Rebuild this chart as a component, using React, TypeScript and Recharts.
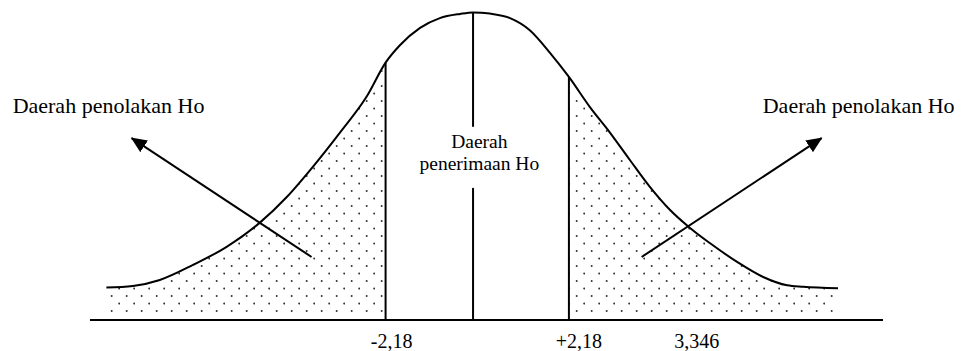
import React from 'react';
import {
  ComposedChart,
  Line,
  Area,
  XAxis,
  YAxis,
  ReferenceLine,
  ReferenceDot,
} from 'recharts';

// t positions along the sketch and curve height
const tPos = [
  -8.82, -8.19, -7.55, -6.76, -5.96, -5.17, -4.53, -3.91, -3.27, -2.63, -2.18,
  -1.84, -1.36, -0.89, -0.41, -0.1, 0.3, 0.78, 1.25, 1.73, 2.18, 2.68, 3.16,
  3.63, 4.11, 4.58, 5.06, 5.53, 6.18, 6.8, 7.37, 7.75, 8.58,
];
const density = [
  0.043, 0.045, 0.053, 0.073, 0.097, 0.129, 0.163, 0.203, 0.248, 0.296, 0.341,
  0.364, 0.387, 0.4, 0.4055, 0.4075, 0.406, 0.4, 0.384, 0.354, 0.322, 0.282,
  0.248, 0.212, 0.176, 0.146, 0.122, 0.102, 0.077, 0.057, 0.046, 0.044, 0.042,
];

const criticalLow = -2.18;
const criticalHigh = 2.18;
const centerT = -0.1;

// x-axis ticks (3,346 sits where the sketch put it, not to scale)
const tickValues = [-2.18, 2.18, 5.22];
const tickLabels = ['-2,18', '+2,18', '3,346'];

// arrows: tail -> tip
const leftArrow = [
  { x: -3.94, y: 0.0835 },
  { x: -8.22, y: 0.241 },
];
const rightArrow = [
  { x: 3.91, y: 0.0835 },
  { x: 8.19, y: 0.241 },
];

const rejectLabel = 'Daerah penolakan Ho';
const acceptLabel = ['Daerah', 'penerimaan Ho'];

const chartData = tPos.map((t, i) => ({
  t,
  curve: density[i],
  left: t <= criticalLow ? density[i] : null,
  right: t >= criticalHigh ? density[i] : null,
}));

const curveAt = (t: number) => density[tPos.indexOf(t)];

const serif: React.CSSProperties = {
  fontFamily: '"Liberation Serif", "Times New Roman", Tinos, "DejaVu Serif", serif',
};
const tickShift = [6, 10, 0];

const AxisTick = (props: any) => {
  const { x, y, index } = props;
  return (
    <text
      x={x + tickShift[index]}
      y={y + 19.5}
      textAnchor="middle"
      style={serif}
      fontSize={20}
      fill="#000"
    >
      {tickLabels[index]}
    </text>
  );
};

const arrowShape = (p: any) => (
  <line
    x1={p.x1}
    y1={p.y1}
    x2={p.x2}
    y2={p.y2}
    stroke="#000"
    strokeWidth={2}
    markerEnd="url(#arrowHead)"
  />
);

export default function App() {
  return (
    <div style={{ position: 'absolute', left: 0, top: 0, background: '#fff' }}>
      <ComposedChart
        width={966}
        height={351}
        data={chartData}
        margin={{ top: 3, right: 83, bottom: 0, left: 90 }}
      >
        <defs>
          <pattern id="dots" patternUnits="userSpaceOnUse" width={15} height={15}>
            <circle cx={6.7} cy={11} r={1} fill="#333" />
            <circle cx={14.2} cy={3.5} r={1} fill="#333" />
          </pattern>
          <marker
            id="arrowHead"
            markerUnits="userSpaceOnUse"
            markerWidth={17}
            markerHeight={14}
            refX={15}
            refY={7}
            orient="auto"
          >
            <path d="M0,0 L16,7 L0,14 z" fill="#000" />
          </marker>
        </defs>
        <XAxis
          dataKey="t"
          type="number"
          domain={[-9.21, 9.65]}
          allowDataOverflow
          ticks={tickValues}
          tick={<AxisTick />}
          tickLine={false}
          axisLine={{ stroke: '#000', strokeWidth: 2 }}
          height={31}
          interval={0}
        />
        <YAxis hide type="number" domain={[0, 0.42]} allowDataOverflow />
        <Area
          dataKey="left"
          type="monotone"
          stroke="none"
          fill="url(#dots)"
          fillOpacity={1}
          baseValue={0.008}
          isAnimationActive={false}
          activeDot={false}
        />
        <Area
          dataKey="right"
          type="monotone"
          stroke="none"
          fill="url(#dots)"
          fillOpacity={1}
          baseValue={0.008}
          isAnimationActive={false}
          activeDot={false}
        />
        <Line
          dataKey="curve"
          type="monotone"
          stroke="#000"
          strokeWidth={2}
          dot={false}
          activeDot={false}
          isAnimationActive={false}
        />
        <ReferenceLine
          segment={[
            { x: criticalLow, y: 0 },
            { x: criticalLow, y: curveAt(criticalLow) },
          ]}
          stroke="#000"
          strokeWidth={2}
        />
        <ReferenceLine
          segment={[
            { x: criticalHigh, y: 0 },
            { x: criticalHigh, y: curveAt(criticalHigh) },
          ]}
          stroke="#000"
          strokeWidth={2}
        />
        <ReferenceLine
          segment={[
            { x: centerT, y: 0 },
            { x: centerT, y: 0.175 },
          ]}
          stroke="#000"
          strokeWidth={2}
        />
        <ReferenceLine
          segment={[
            { x: centerT, y: 0.256 },
            { x: centerT, y: curveAt(centerT) },
          ]}
          stroke="#000"
          strokeWidth={2}
        />
        <ReferenceLine segment={leftArrow} shape={arrowShape} />
        <ReferenceLine segment={rightArrow} shape={arrowShape} />
        <ReferenceDot
          x={-11.05}
          y={0.274}
          ifOverflow="visible"
          shape={(p: any) => (
            <text x={p.cx} y={p.cy} style={serif} fontSize={22} fill="#000">
              {rejectLabel}
            </text>
          )}
        />
        <ReferenceDot
          x={6.79}
          y={0.274}
          ifOverflow="visible"
          shape={(p: any) => (
            <text x={p.cx} y={p.cy} style={serif} fontSize={22} fill="#000">
              {rejectLabel}
            </text>
          )}
        />
        <ReferenceDot
          x={0.05}
          y={0.2275}
          ifOverflow="visible"
          shape={(p: any) => (
            <text x={p.cx} y={p.cy} textAnchor="middle" style={serif} fontSize={19.5} fill="#000">
              <tspan x={p.cx}>{acceptLabel[0]}</tspan>
              <tspan x={p.cx} dy={21.7}>
                {acceptLabel[1]}
              </tspan>
            </text>
          )}
        />
      </ComposedChart>
    </div>
  );
}
